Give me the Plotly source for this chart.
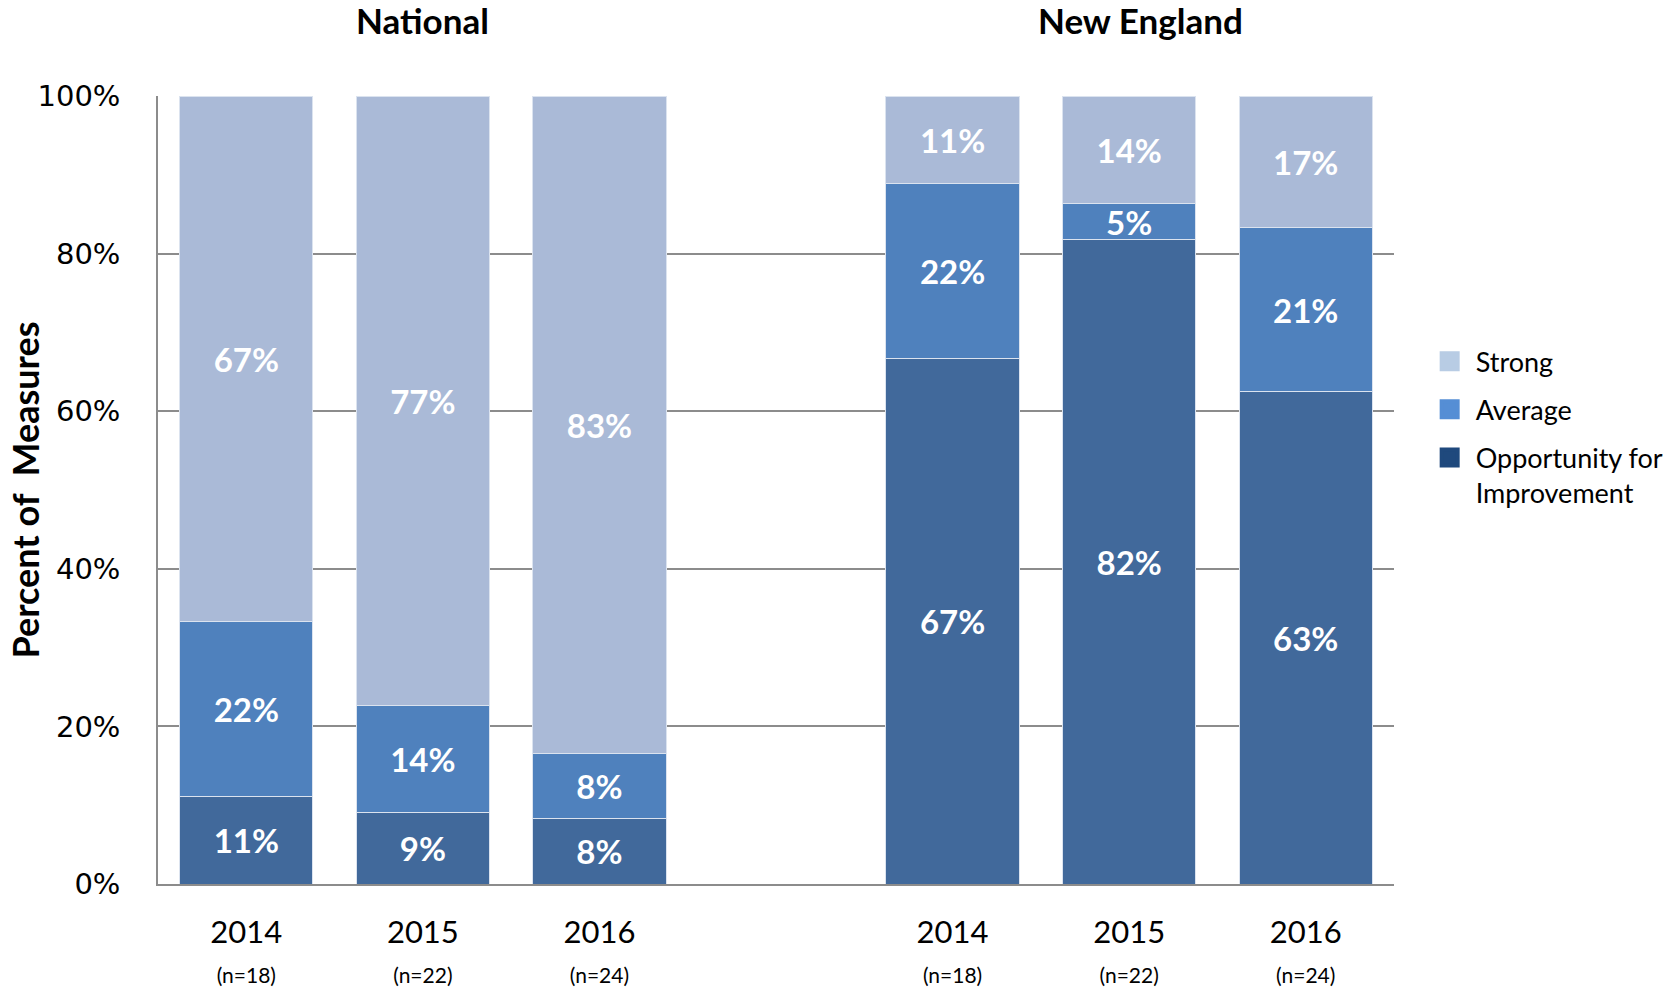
import plotly.graph_objects as go

# ---- data ----
x_pos = [0, 1, 2, 4, 5, 6]
years = ["2014", "2015", "2016", "2014", "2015", "2016"]
n_labels = ["(n=18)", "(n=22)", "(n=24)", "(n=18)", "(n=22)", "(n=24)"]
groups = ["National", "New England"]
group_centers = [1, 5]
y_ticks = [0, 20, 40, 60, 80, 100]
y_ticklabels = ["0%", "20%", "40%", "60%", "80%", "100%"]

opportunity = [11.1, 9.1, 8.3, 66.7, 81.8, 62.5]
average = [22.2, 13.6, 8.3, 22.2, 4.5, 20.8]
strong = [66.7, 77.3, 83.3, 11.1, 13.6, 16.7]

opportunity_txt = ["11%", "9%", "8%", "67%", "82%", "63%"]
average_txt = ["22%", "14%", "8%", "22%", "5%", "21%"]
strong_txt = ["67%", "77%", "83%", "11%", "14%", "17%"]

series = [
    ("Opportunity for<br>Improvement", opportunity, opportunity_txt, "#41699b", "#1f497d"),
    ("Average", average, average_txt, "#4f81bd", "#558ed5"),
    ("Strong", strong, strong_txt, "#aabad7", "#b8cce4"),
]

BASE_FONT = "Lato, Open Sans, sans-serif"

fig = go.Figure()
for name, vals, txt, col, _ in series:
    fig.add_trace(go.Bar(
        x=x_pos, y=vals, name=name, text=txt,
        texttemplate="%{text}", textposition="inside", insidetextanchor="middle",
        textangle=0, constraintext="none",
        textfont=dict(family=BASE_FONT, size=33, color="white", weight="bold"),
        marker=dict(color=col, line=dict(color="#dbe3ef", width=1)),
        width=0.755, showlegend=False, hoverinfo="skip",
    ))

# legend entries (legend swatch colours differ from the bar fills in the reference)
for i, (name, vals, txt, col, lcol) in enumerate(reversed(series)):
    fig.add_trace(go.Scatter(
        x=[None], y=[None], mode="markers", name=name, legendgroup=f"g{i}",
        marker=dict(symbol="square", size=16, color=lcol, line=dict(color=lcol, width=4)),
        showlegend=True,
    ))

ticktext = [f"{y}<br><span style='font-size:21px'>{n}</span>" for y, n in zip(years, n_labels)]

fig.update_layout(
    barmode="stack",
    width=1680, height=993,
    margin=dict(l=158, r=286, t=96, b=109, autoexpand=False),
    plot_bgcolor="white", paper_bgcolor="white",
    font=dict(family=BASE_FONT, color="black"),
    legend=dict(
        x=1.024, y=0.694, xanchor="left", yanchor="top",
        font=dict(family=BASE_FONT, size=27, color="black"),
        traceorder="grouped", itemsizing="trace", tracegroupgap=10,
        itemwidth=42, valign="top", bgcolor="rgba(0,0,0,0)",
    ),
    xaxis=dict(
        range=[-0.5, 6.5], tickmode="array", tickvals=x_pos, ticktext=ticktext,
        tickfont=dict(family=BASE_FONT, size=31, color="black"),
        showgrid=False, zeroline=False,
        showline=True, linecolor="#8c8c8c", linewidth=1.5,
        ticks="outside", ticklen=20, tickcolor="rgba(0,0,0,0)",
        fixedrange=True,
    ),
    yaxis=dict(
        range=[0, 100], tickmode="array", tickvals=y_ticks, ticktext=y_ticklabels,
        tickfont=dict(family="DejaVu Sans, Verdana, sans-serif", size=29, color="black"),
        showgrid=True, gridcolor="#8c8c8c", gridwidth=1.5,
        zeroline=False, showline=True, linecolor="#8c8c8c", linewidth=1.5,
        ticks="outside", ticklen=30, tickcolor="rgba(0,0,0,0)",
        fixedrange=True,
    ),
)

for g, c, xs in zip(groups, group_centers, [0, 11]):
    fig.add_annotation(
        x=c, xref="x", y=1.096, yref="paper", text=f"<b>{g}</b>",
        showarrow=False, xanchor="center", yanchor="middle", xshift=xs,
        font=dict(family=BASE_FONT, size=35, color="black"),
    )

fig.add_annotation(
    x=-0.108, xref="paper", y=0.5, yref="paper", text="<b>Percent of  Measures</b>",
    textangle=-90, showarrow=False, xanchor="center", yanchor="middle",
    font=dict(family=BASE_FONT, size=36, color="black"),
)

# remove the browser's default 8px page margin so the figure fills the window exactly
fig.write_html("out.html", config={"displayModeBar": False},
               post_script="document.body.style.margin='0';")
